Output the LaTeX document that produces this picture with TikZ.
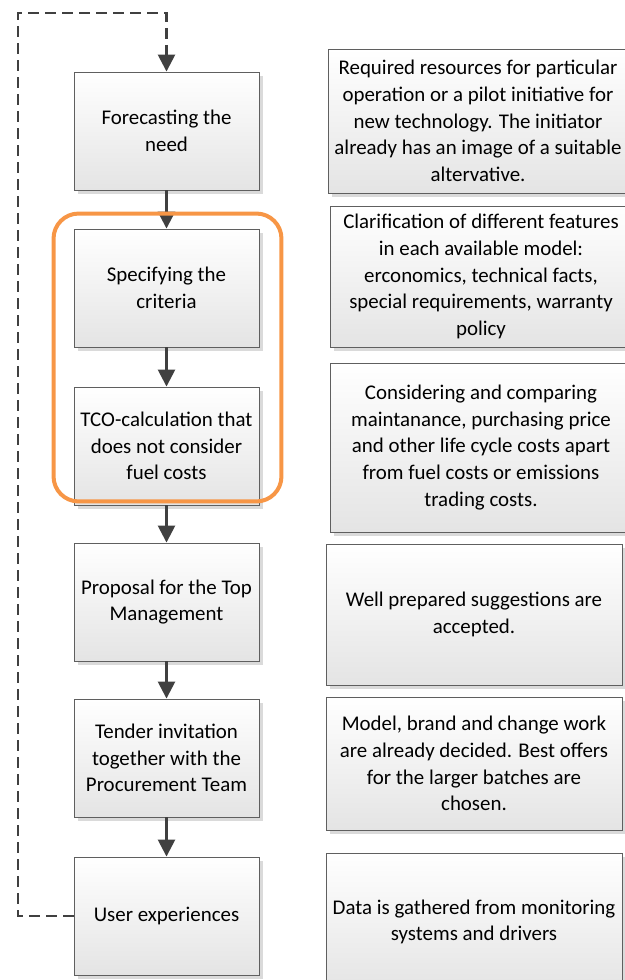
\documentclass[tikz,border=0pt]{standalone}
\usepackage{fontspec}
\setmainfont{Carlito}
\usetikzlibrary{positioning,arrows.meta,shadows,calc}
\definecolor{boxline}{RGB}{95,95,95}
\definecolor{boxshade}{RGB}{228,228,228}
\definecolor{shadowgray}{RGB}{218,218,218}
\definecolor{flowgray}{RGB}{64,64,64}
\definecolor{groupline}{RGB}{247,150,70}

\begin{document}
\begin{tikzpicture}[x=1pt, y=-1pt,
    stage/.style={draw=boxline, line width=0.9pt, top color=white, bottom color=boxshade,
      minimum width=185pt, minimum height=118pt, inner sep=2pt, align=center,
      font=\fontsize{20.9}{26.8}\selectfont,
      drop shadow={shadow xshift=4pt, shadow yshift=-4pt, fill=shadowgray, opacity=1}},
    note/.style={stage, minimum width=296pt},
    flow/.style={-{Triangle[length=17pt,width=17pt]}, line width=2.6pt, draw=flowgray},
    loopback/.style={flow, dash pattern=on 11pt off 6pt},
    group/.style={draw=groupline, line width=4pt, rounded corners=25pt}]
  \useasboundingbox (0,0) rectangle (624,980);

  % steps of the procurement
  \node[stage] (need)     at (166.5,131) {Forecasting the\\need};
  \node[stage] (criteria) at (166.5,288) {Specifying the\\criteria};
  \node[stage] (tco)      at (166.5,446) {TCO-calculation that\\does not consider\\fuel costs};
  \node[stage] (proposal) at (166.5,602) {Proposal for the Top\\Management};
  \node[stage] (tender)   at (166.5,758) {Tender invitation\\together with the\\Procurement Team};
  \node[stage] (user)     at (166.5,916) {User experiences};

  % notes on the right
  \node[note, minimum width=300pt, minimum height=144pt] (neednote) at (478,121)
    {Required resources for particular\\operation or a pilot initiative for\\new technology. The initiator\\already has an image of a suitable\\altervative.};
  \node[note, minimum width=302pt, minimum height=141pt] (criterianote) at (481,276.5)
    {Clarification of different features\\in each available model:\\erconomics, technical facts,\\special requirements, warranty\\policy};
  \node[note, minimum width=302pt, minimum height=169pt] (tconote) at (481,447.5)
    {Considering and comparing\\maintanance, purchasing price\\and other life cycle costs apart\\from fuel costs or emissions\\trading costs.};
  \node[note, minimum height=141pt] (proposalnote) at (474,614.5)
    {Well prepared suggestions are\\accepted.};
  \node[note, minimum height=133pt] (tendernote) at (474,763.5)
    {Model, brand and change work\\are already decided. Best offers\\for the larger batches are\\chosen.};
  \node[note, minimum height=138pt] (usernote) at (474,922)
    {Data is gathered from monitoring\\systems and drivers};

  % flow
  \draw[flow] (need) -- (criteria);
  \draw[flow] (criteria) -- (tco);
  \draw[flow] (tco) -- (proposal);
  \draw[flow] (proposal) -- (tender);
  \draw[flow] (tender) -- (user);

  % feedback loop
  \coordinate (looptop) at (18,13);
  \draw[loopback] (user.west) -| (looptop) -| (need.north);

  % highlighted part
  \draw[group] ([xshift=-20pt,yshift=15pt]criteria.north west) rectangle ([xshift=22pt,yshift=4pt]tco.south east);
\end{tikzpicture}
\end{document}
